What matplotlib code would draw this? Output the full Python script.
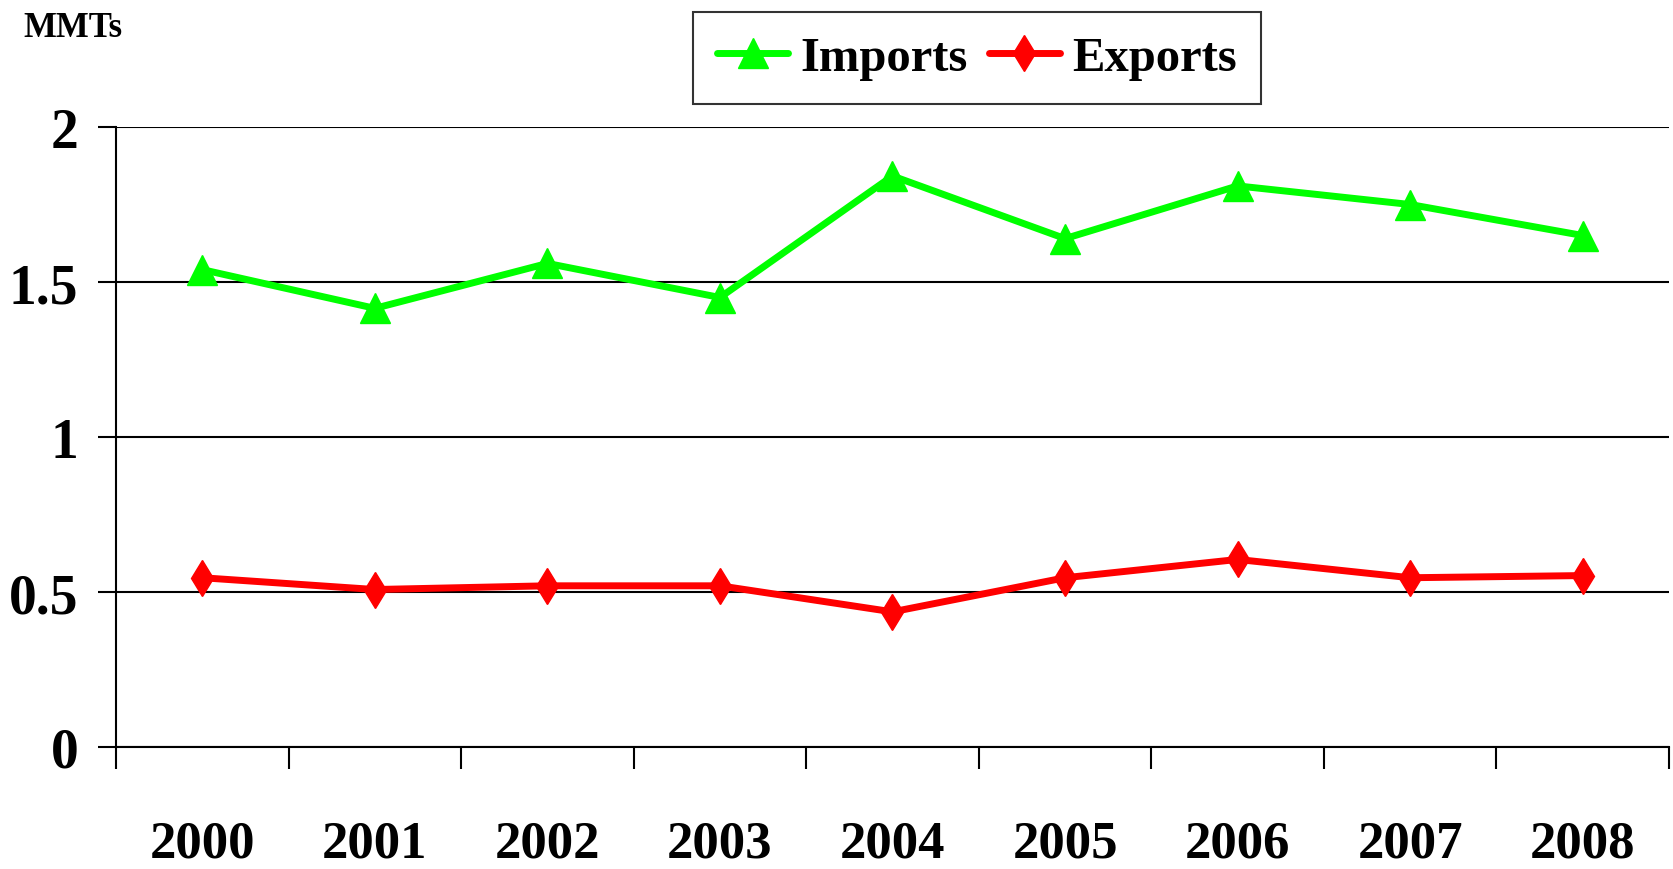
import matplotlib
matplotlib.use("Agg")
import matplotlib.pyplot as plt
import numpy as np

years = ["2000", "2001", "2002", "2003", "2004", "2005", "2006", "2007", "2008"]
imports = [1.54, 1.415, 1.56, 1.45, 1.842, 1.64, 1.81, 1.75, 1.65]
exports = [0.546, 0.508, 0.52, 0.52, 0.436, 0.546, 0.605, 0.546, 0.553]
yticks = [0, 0.5, 1, 1.5, 2]
ytick_labels = ["0", "0.5", "1", "1.5", "2"]

plt.rcParams['font.family'] = ['Liberation Serif', 'DejaVu Serif']
plt.rcParams['font.weight'] = 'bold'

fig = plt.figure(figsize=(16.74, 8.70), dpi=100)
ax = fig.add_axes([116/1674, 1-748/870, (1669-116)/1674, (748-128)/870])

x = np.arange(len(years))
ax.plot(x, imports, color='#00ff00', lw=5, marker='^', markersize=22,
        solid_capstyle='round', label='Imports', zorder=3)
ax.plot(x, exports, color='#ff0000', lw=5, marker='d', markersize=18,
        solid_capstyle='round', label='Exports', zorder=3)

ax.set_xlim(-0.5, len(years) - 0.5)
ax.set_ylim(0, 2)
ax.set_yticks(yticks)
ax.set_yticklabels(ytick_labels)
ax.yaxis.grid(True, color='black', lw=1.5)
ax.set_axisbelow(True)
ax.tick_params(axis='y', length=13, width=1.5, pad=14, labelsize=40)

ax.set_xticks(x)
ax.set_xticklabels(years)
ax.set_xticks(np.arange(-0.5, len(years)), minor=True)
ax.tick_params(axis='x', which='major', length=0, pad=52, labelsize=38)
ax.tick_params(axis='x', which='minor', length=16, width=1.5)

for s in ['top', 'right']:
    ax.spines[s].set_visible(False)
for s in ['left', 'bottom']:
    ax.spines[s].set_linewidth(1.5)

fig.text(23/1674, 1-37/870, "MMTs", fontsize=25, fontweight='bold', va='baseline', ha='left')

leg = fig.legend(loc='center', bbox_to_anchor=(977/1674, 1-59/870), ncol=2,
                 fontsize=35, frameon=True, fancybox=False, handlelength=1.45,
                 handletextpad=0.25, columnspacing=0.45, borderpad=0.5, markerscale=1.0)
leg.get_frame().set_edgecolor('black')
leg.get_frame().set_linewidth(1.5)

fig.savefig("out.png", dpi=100, facecolor='white')
